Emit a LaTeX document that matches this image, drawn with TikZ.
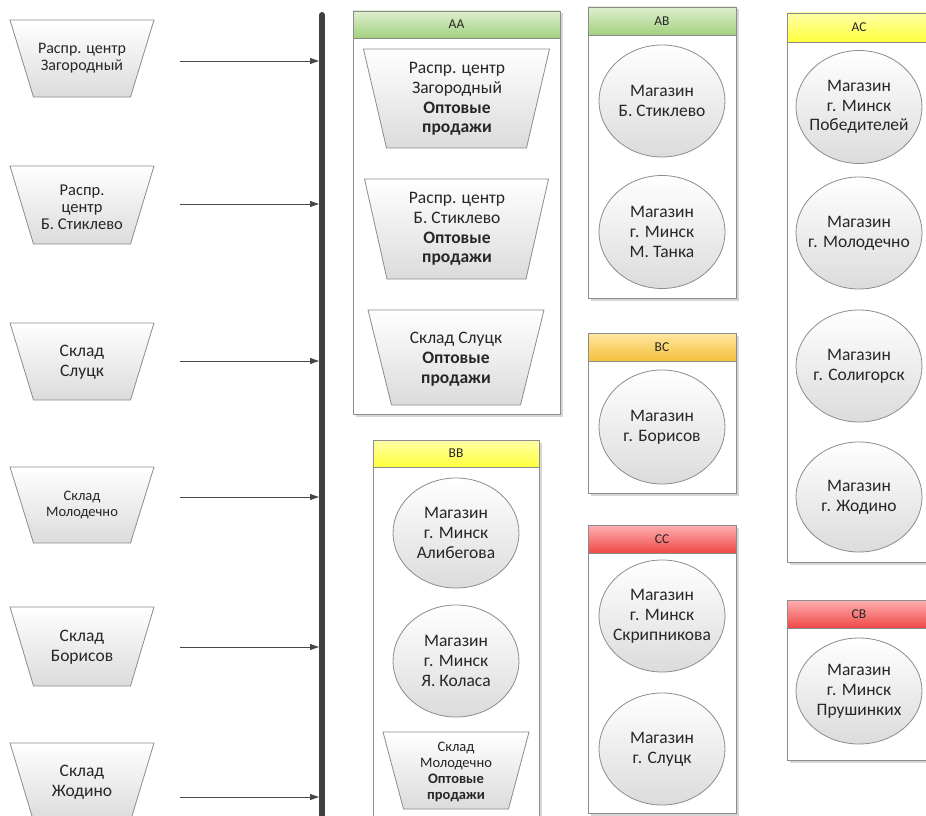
\documentclass[tikz,border=0pt]{standalone}
\usepackage{fontspec}
\setmainfont{Carlito}
\usetikzlibrary{arrows.meta,shapes.geometric}
\definecolor{edgegray}{HTML}{8C8C8C}
\definecolor{txt}{HTML}{262626}
\definecolor{greenT}{HTML}{DDEFCF}
\definecolor{greenB}{HTML}{A3D17F}
\definecolor{yellowT}{HTML}{FFFFA8}
\definecolor{yellowB}{HTML}{FFFF3C}
\definecolor{orangeT}{HTML}{FFE8A3}
\definecolor{orangeB}{HTML}{F5BF3A}
\definecolor{redT}{HTML}{FFB0B0}
\definecolor{redB}{HTML}{F04848}
\definecolor{barcol}{HTML}{404040}
\newcommand\fsbig{\fontsize{17.5}{19.8}\selectfont}
\newcommand\fsone{\fontsize{16}{16.5}\selectfont}
\newcommand\fstwo{\fontsize{16.5}{17}\selectfont}
\newcommand\fssmall{\fontsize{14.5}{16}\selectfont}
\newcommand\fshdr{\fontsize{13.5}{14}\selectfont}
\tikzset{
  shp/.style={draw=edgegray, line width=0.8pt, top color=white, bottom color=black!14},
  ellshape/.style={ellipse, shp, minimum width=126pt, minimum height=113pt, inner sep=0pt},
  lbl/.style={align=center, inner sep=0pt, text=txt},
  frame/.style={draw=edgegray, line width=0.8pt, fill=white},
  hdrtext/.style={inner sep=0pt, text=txt, font=\fshdr},
  feed/.style={draw=black!72, line width=0.9pt, -{Triangle[length=9pt,width=6pt]}},
}
% panel: x1 y1 x2 y2 yheader colTop colBottom label name
\newcommand\panel[9]{%
  \fill[black!16] ({#1+2.5},{#2+2.5}) rectangle ({#3+2.5},{#4+2.5});
  \draw[frame] (#1,#2) rectangle (#3,#4);
  \draw[draw=edgegray, line width=0.8pt, top color=#6, bottom color=#7] (#1,#2) rectangle (#3,#5);
  \node[hdrtext] (#9) at ({(#1+#3)/2},{(#2+#5)/2}) {#8};
}
% trapezoid: cx ytop ybot halftop halfbottom
\newcommand\trapz[5]{%
  \path[shp] ({#1-#4},#2) -- ({#1+#4},#2) -- ({#1+#5},#3) -- ({#1-#5},#3) -- cycle;
}
% shop ellipse: name x y height text
\newcommand\shop[5]{%
  \node[ellshape, minimum height=#4pt] (#1) at (#2,#3) {};
  \node[lbl, font=\fsbig] (#1t) at (#1) {#5};
}
\begin{document}
\begin{tikzpicture}[x=1pt,y=-1pt]
\useasboundingbox (0,0) rectangle (926,816);
\clip (0,0) rectangle (926,816);
\fill[white] (0,0) rectangle (926,816);

% ---- left sources ----
\trapz{82}{20}{97}{72}{48.5}
\node[lbl, font=\fsone] (L1) at (82,58) {Распр. центр\\Загородный};
\trapz{82}{166}{244}{72}{48.5}
\node[lbl, font=\fstwo] (L2) at (82,207) {Распр.\\центр\\Б. Стиклево};
\trapz{82}{323}{400}{72}{48.5}
\node[lbl, font=\fsbig] (L3) at (82,362) {Склад\\Слуцк};
\trapz{82}{467}{543}{72}{48.5}
\node[lbl, font=\fssmall] (L4) at (82,505) {Склад\\Молодечно};
\trapz{82}{607}{686}{72}{48.5}
\node[lbl, font=\fsbig] (L5) at (82,647) {Склад\\Борисов};
\trapz{82}{743}{821}{72}{48.5}
\node[lbl, font=\fsbig] (L6) at (82,782) {Склад\\Жодино};

% ---- bus bar ----
\draw[barcol, line width=6pt, line cap=round] (322,15) -- (322,830);

\foreach \i/\yy in {1/61,2/204,3/361,4/497,5/647,6/797}{
  \coordinate (s\i) at (180,\yy);
  \coordinate (e\i) at (319,\yy);
  \draw[feed] (s\i) -- (e\i);
}

% ---- AA ----
\panel{353}{11}{560}{414}{38}{greenT}{greenB}{AA}{hAA}
\trapz{456.5}{49}{148}{93}{70}
\node[lbl, font=\fsbig] (aa1) at (457,99) {Распр. центр\\Загородный\\\textbf{Оптовые}\\\textbf{продажи}};
\trapz{456.5}{179}{279}{92}{69.5}
\node[lbl, font=\fsbig] (aa2) at (457,229) {Распр. центр\\Б. Стиклево\\\textbf{Оптовые}\\\textbf{продажи}};
\trapz{456}{310}{405}{88}{64.5}
\node[lbl, font=\fsbig] (aa3) at (456,359) {Склад Слуцк\\\textbf{Оптовые}\\\textbf{продажи}};

% ---- AB ----
\panel{588}{7}{736}{298}{35}{greenT}{greenB}{AB}{hAB}
\shop{ab1}{662}{101}{112}{Магазин\\Б. Стиклево}
\shop{ab2}{662}{232}{113}{Магазин\\г. Минск\\М. Танка}

% ---- AC ----
\panel{787}{13}{931}{562}{42}{yellowT}{yellowB}{AC}{hAC}
\shop{ac1}{859}{107}{113}{Магазин\\г. Минск\\Победителей}
\shop{ac2}{859}{233}{112}{Магазин\\г. Молодечно}
\shop{ac3}{859}{366}{112}{Магазин\\г. Солигорск}
\shop{ac4}{859}{497}{110}{Магазин\\г. Жодино}

% ---- BB ----
\panel{373}{440}{539}{830}{467}{yellowT}{yellowB}{BB}{hBB}
\shop{bb1}{456}{533}{110}{Магазин\\г. Минск\\Алибегова}
\shop{bb2}{456}{661}{112}{Магазин\\г. Минск\\Я. Коласа}
\trapz{456}{732}{809}{73}{52.5}
\node[lbl, font=\fssmall] (bb3) at (456,772) {Склад\\Молодечно\\\textbf{Оптовые}\\\textbf{продажи}};

% ---- BC ----
\panel{588}{333}{736}{493}{361}{orangeT}{orangeB}{BC}{hBC}
\shop{bc1}{662}{427}{114}{Магазин\\г. Борисов}

% ---- CC ----
\panel{588}{525}{736}{813}{553}{redT}{redB}{CC}{hCC}
\shop{cc1}{662}{616}{112}{Магазин\\г. Минск\\Скрипникова}
\shop{cc2}{662}{749}{112}{Магазин\\г. Слуцк}

% ---- CB ----
\panel{787}{600}{931}{760}{628}{redT}{redB}{CB}{hCB}
\shop{cb1}{859}{691}{106}{Магазин\\г. Минск\\Прушинких}
\end{tikzpicture}
\end{document}
